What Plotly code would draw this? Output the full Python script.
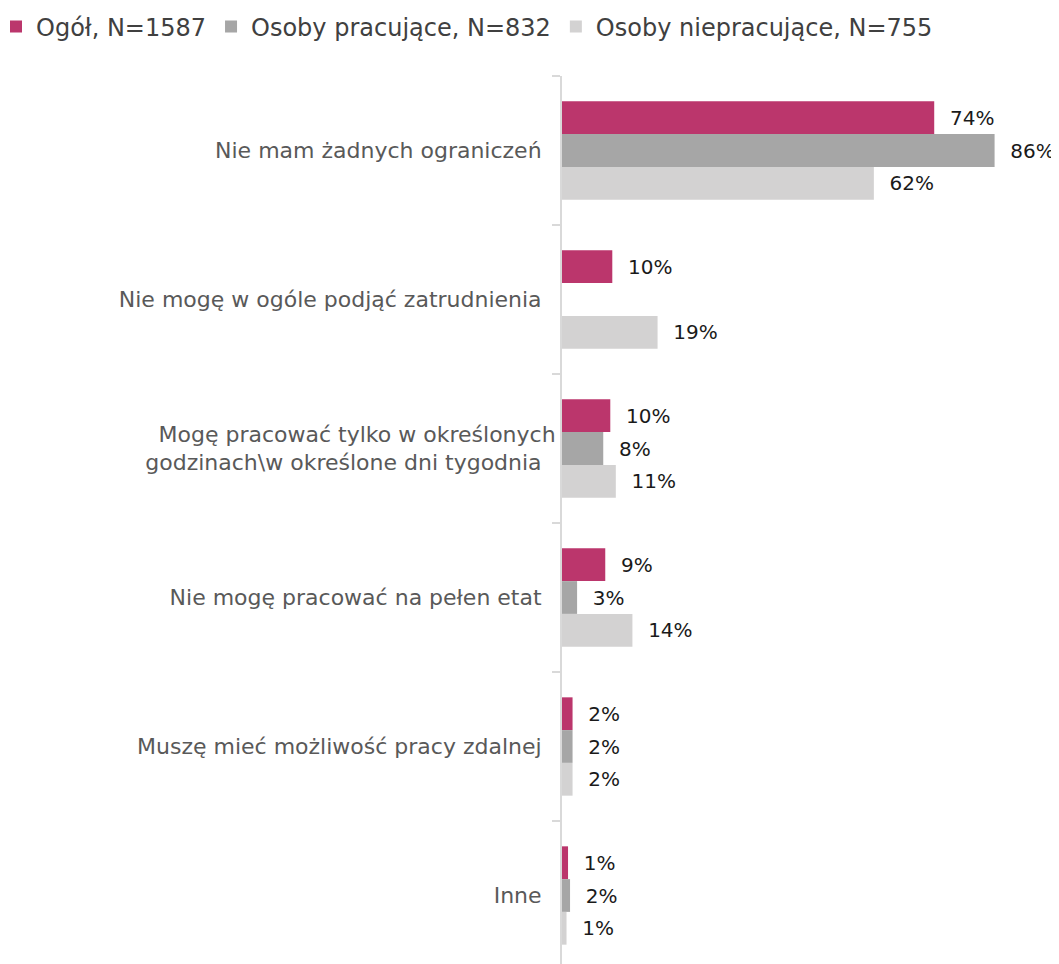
import plotly.graph_objects as go

categories = [
    "Nie mam żadnych ograniczeń",
    "Nie mogę w ogóle podjąć zatrudnienia",
    "Mogę pracować tylko w określonych<br>godzinach\\w określone dni tygodnia",
    "Nie mogę pracować na pełen etat",
    "Muszę mieć możliwość pracy zdalnej",
    "Inne",
]
series_names = ["Ogół, N=1587", "Osoby pracujące, N=832", "Osoby niepracujące, N=755"]
ogol = [74, 10, 9.6, 8.6, 2.1, 1.2]
pracujace = [86, None, 8.2, 3, 2.1, 1.6]
niepracujace = [62, 19, 10.7, 14, 2.1, 0.9]
colors = ["#bb366c", "#a6a6a6", "#d3d2d2"]

FONT = "DejaVu Sans, sans-serif"

L, T, B = 554, 68, 2
W, H = 1059, 964
PW, PH = W - L, H - T - B

fig = go.Figure()
for name, vals, col in zip(series_names, [ogol, pracujace, niepracujace], colors):
    fig.add_trace(go.Bar(
        y=categories, x=vals, name=name, orientation="h",
        marker=dict(color=col, line=dict(width=0)),
        texttemplate="  %{x:.0f}%", textposition="outside",
        textfont=dict(size=20, color="#1a1a1a", family=FONT),
        cliponaxis=False,
    ))

fig.update_layout(
    width=W, height=H,
    margin=dict(l=L, r=0, t=T, b=B, autoexpand=False),
    paper_bgcolor="white", plot_bgcolor="white",
    barmode="group", bargap=0.34, bargroupgap=0,
    font=dict(family=FONT),
    showlegend=True,
    legend=dict(orientation="h", x=(-12 - L) / PW, xref="paper",
                y=1 + (T - 19) / PH, yref="paper",
                yanchor="middle", xanchor="left",
                font=dict(size=24, color="#404040", family=FONT),
                itemwidth=30, traceorder="normal"),
    xaxis=dict(range=[0, PW / 5.03], visible=False),
    yaxis=dict(autorange="reversed", showline=True, linecolor="#d9d9d9", linewidth=2,
               ticks="outside", tickson="boundaries", ticklen=8, tickcolor="#d9d9d9",
               tickwidth=2, showgrid=False, automargin=False,
               tickfont=dict(size=22, color="#595959", family=FONT), ticksuffix="  "),
)

fig.write_html("out.html")
